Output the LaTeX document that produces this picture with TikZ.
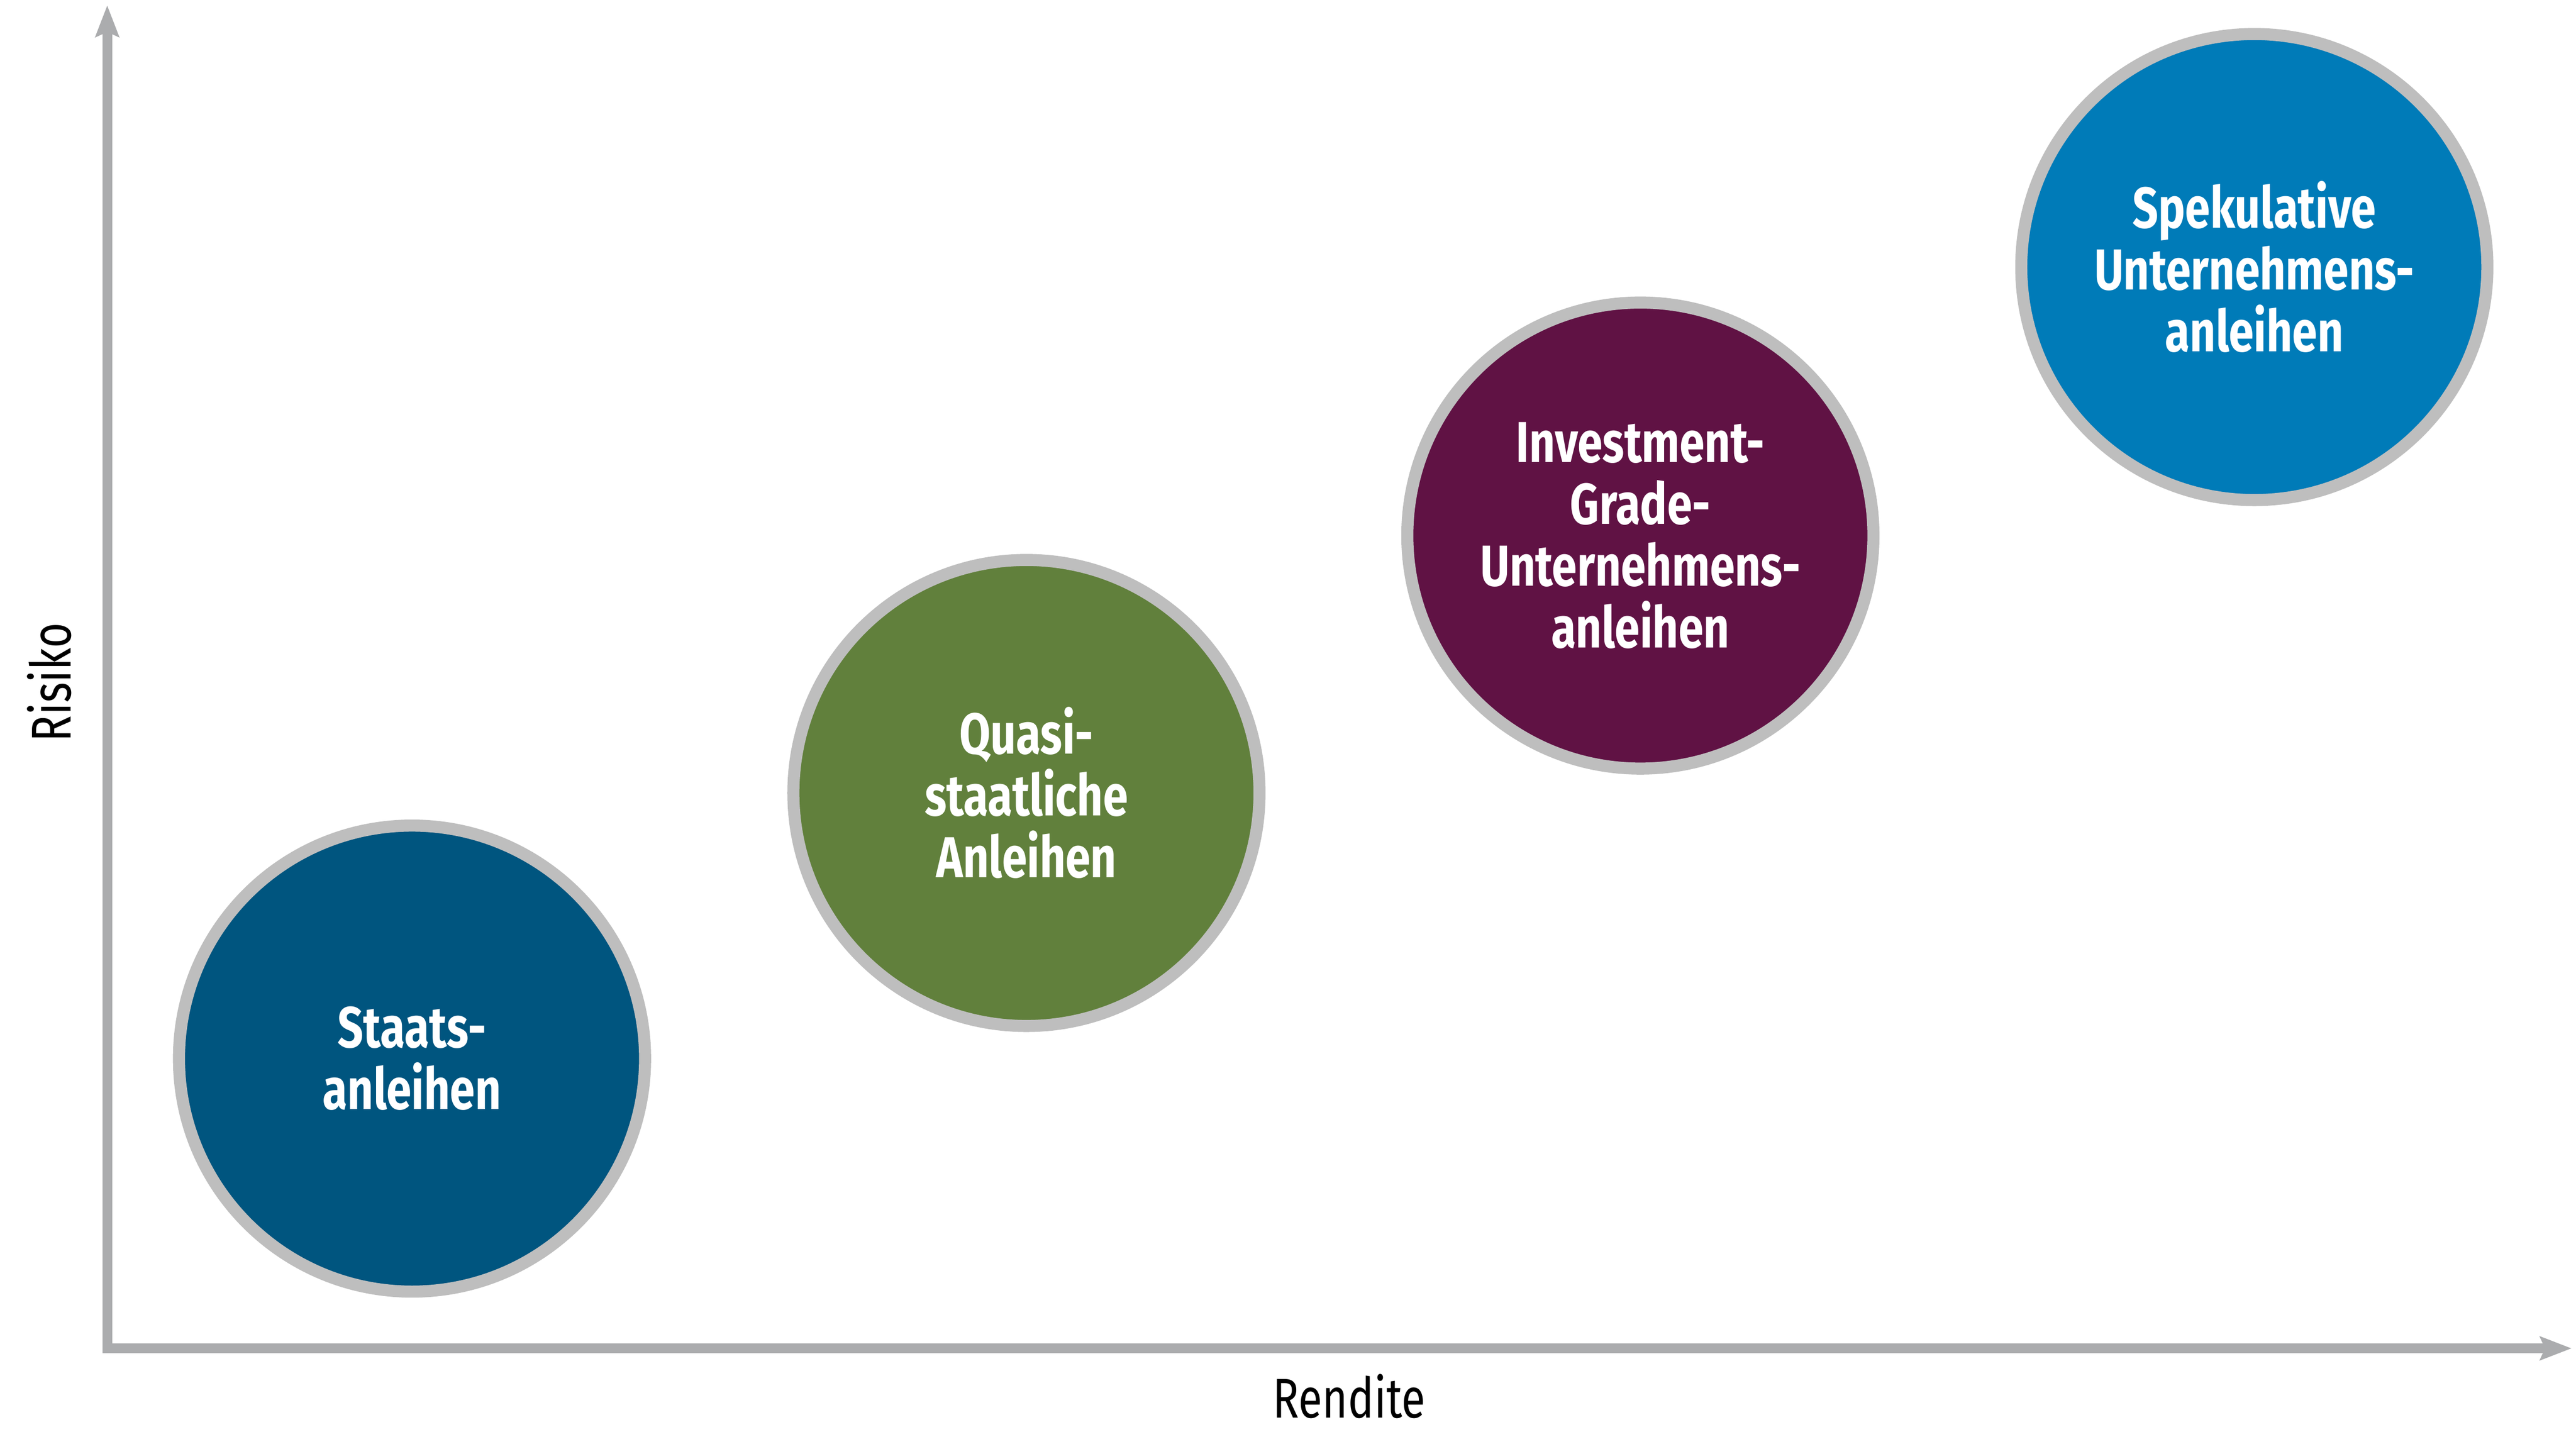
\documentclass[tikz,border=0pt]{standalone}
\usepackage{fontspec}
\setmainfont{Fira Sans}[FakeStretch=0.78]
\usetikzlibrary{arrows.meta}

\definecolor{axisgray}{HTML}{ABACAE}
\definecolor{ringgray}{HTML}{BEBEBE}
\definecolor{staatblue}{HTML}{00557F}
\definecolor{quasigreen}{HTML}{61803C}
\definecolor{igpurple}{HTML}{601244}
\definecolor{spekblue}{HTML}{007BB8}

\begin{document}
\begin{tikzpicture}[
    >={Stealth[length=0.65cm,width=0.48cm,inset=0.1cm]},
    axis/.style={line width=0.2cm, draw=axisgray, <->},
    bond/.style={circle, draw=ringgray, line width=0.25cm, minimum size=9.65cm,
        inner sep=0pt, text=white, align=center,
        font=\fontsize{34}{36.4}\selectfont\bfseries},
    axislabel/.style={font=\fontsize{33}{36}\selectfont, anchor=base}]
\useasboundingbox (0,0) rectangle (53.33,30);

% axes
\coordinate (origin) at (2.22,2.08);
\coordinate (ytip) at (2.22,29.89);
\coordinate (xtip) at (53.24,2.08);
\draw[axis] (ytip) -- (origin) -- (xtip);
\node[axislabel] (rendite) at (27.93,0.64) {Rendite};
\node[axislabel, rotate=90] (risiko) at (1.47,15.87) {Risiko};

% bonds
\node[bond, fill=staatblue] (staats) at (8.53,8.08) {Staats-\\anleihen};
\node[bond, fill=quasigreen] (quasi) at (21.25,13.58) {Quasi-\\staatliche\\Anleihen};
\node[bond, fill=igpurple] (invgrade) at (33.96,18.91) {Investment-\\Grade-\\Unternehmens-\\anleihen};
\node[bond, fill=spekblue] (spek) at (46.67,24.47) {Spekulative\\Unternehmens-\\anleihen};
\end{tikzpicture}
\end{document}
